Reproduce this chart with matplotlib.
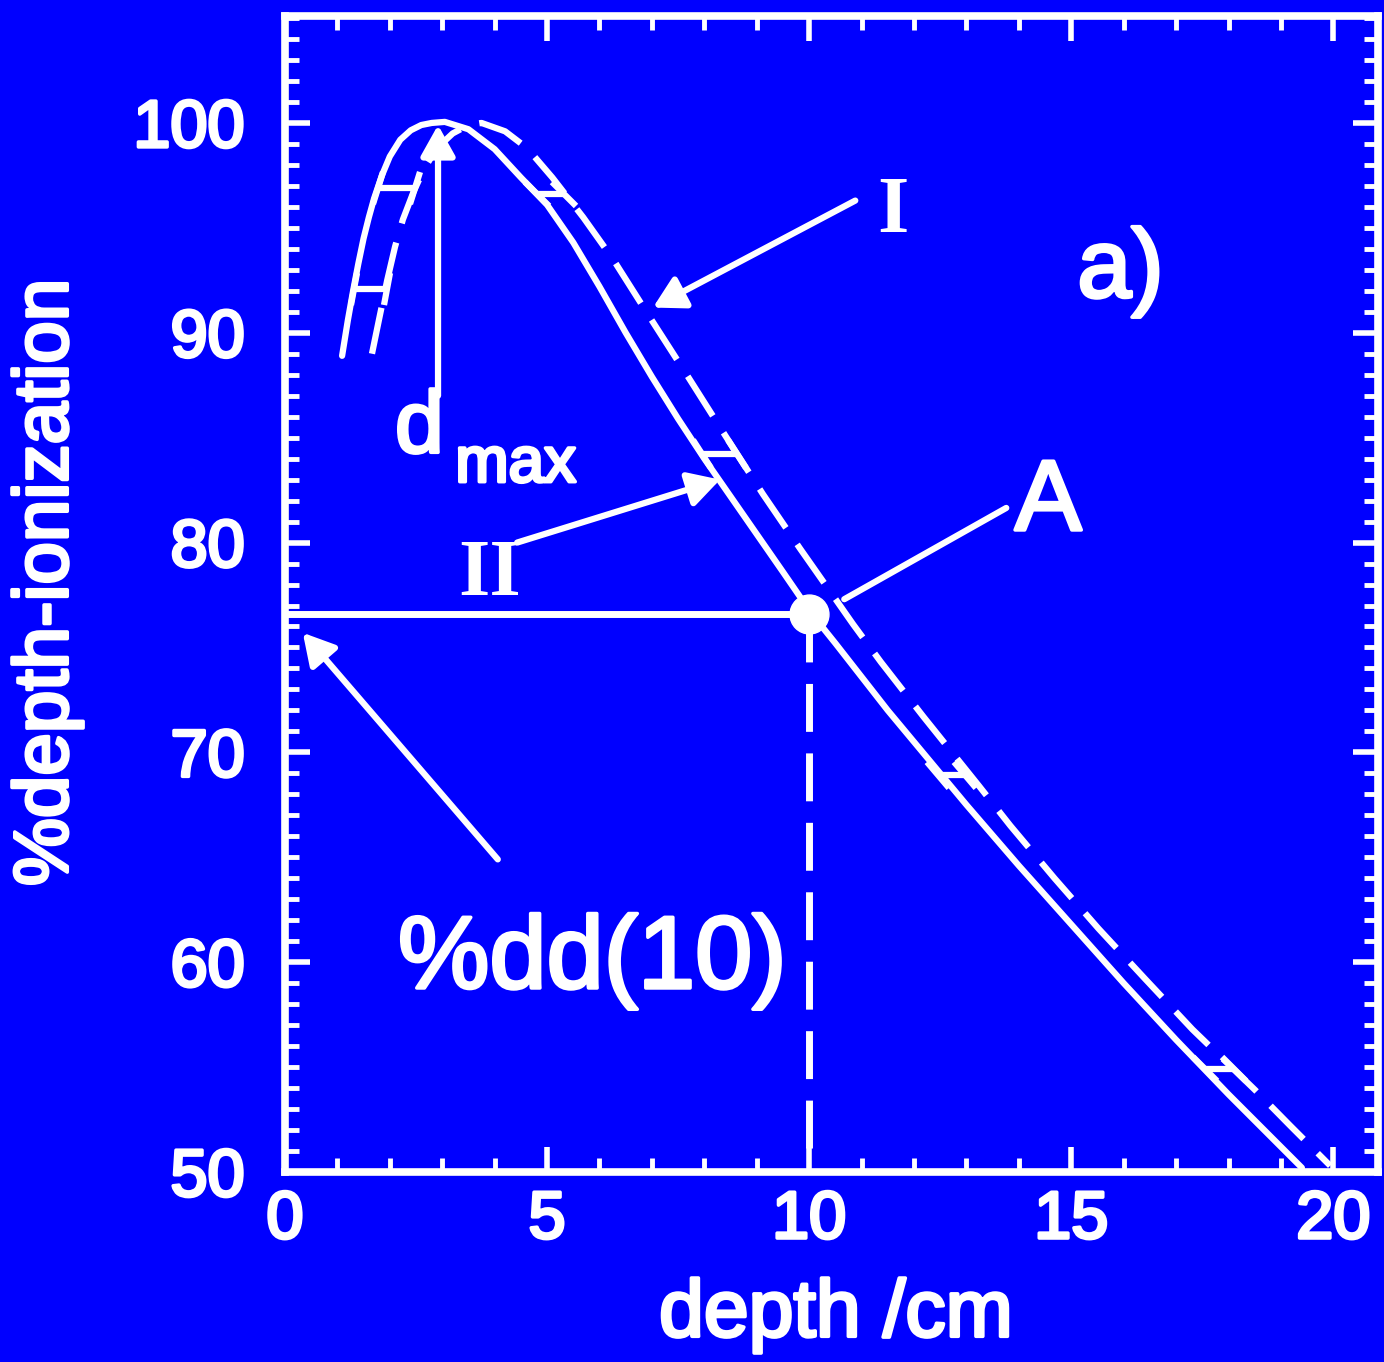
import numpy as np
import matplotlib
matplotlib.use("Agg")
import matplotlib.pyplot as plt
from matplotlib import patheffects as pe
from matplotlib.markers import MarkerStyle
from matplotlib.ticker import MultipleLocator
from matplotlib.transforms import Affine2D

# Curve II (solid line): %depth-ionization against depth /cm
depth_ii = [1.09, 1.2, 1.3, 1.4, 1.5, 1.6, 1.7, 1.85, 2.0, 2.2, 2.4, 2.6, 2.8, 3.05, 3.5, 4.0,
            4.5, 5.0, 5.5, 6.0, 6.5, 7.0, 7.5, 8.0, 8.5, 9.0, 9.5, 10.05, 10.5, 11.0, 11.5,
            12.0, 12.5, 13.0, 14.0, 15.0, 16.0, 17.0, 18.0, 19.0, 19.4]
pct_ii = [88.9, 90.6, 92.0, 93.3, 94.5, 95.5, 96.4, 97.5, 98.4, 99.2, 99.65, 99.9, 100.0, 100.05,
          99.7, 98.75, 97.4, 96.1, 94.3, 92.2, 90.0, 87.9, 85.9, 84.0, 82.2, 80.4, 78.6, 76.6,
          75.2, 73.6, 72.0, 70.5, 69.0, 67.5, 64.6, 61.8, 59.0, 56.3, 53.7, 51.2, 50.2]

# Curve I (dashed line)
depth_i = [1.66, 1.8, 1.95, 2.1, 2.25, 2.45, 2.65, 2.9, 3.2, 3.5, 3.75, 4.2, 4.62, 5.1, 5.69,
           6.26, 6.97, 7.69, 8.40, 9.12, 9.83, 10.42, 10.84, 11.37, 12.18, 13.24, 13.84, 14.68,
           15.52, 16.41, 17.31, 18.51, 19.18, 19.94]
pct_i = [89.0, 90.7, 92.5, 94.1, 95.4, 96.7, 97.8, 98.8, 99.5, 99.9, 100.0, 99.6, 98.8, 97.4,
         95.5, 93.5, 90.7, 87.9, 85.1, 82.3, 79.7, 77.6, 76.1, 74.3, 71.7, 68.4, 66.5, 64.0,
         61.6, 59.2, 56.8, 53.9, 52.2, 50.3]

# error bars sitting on curve II and reaching over to curve I
bar_depth = [1.31, 1.77, 4.80, 7.95, 12.45, 17.55]
bar_pct = [92.1, 96.9, 96.6, 84.2, 68.9, 54.9]
bar_width = [0.63, 0.71, 0.53, 0.68, 0.52, 0.56]

# point A = %dd(10), and depth of maximum
a_depth, a_pct = 10.0, 76.6
dmax_depth = 2.92

x_ticks = [0, 5, 10, 15, 20]
y_ticks = [50, 60, 70, 80, 90, 100]

BLUE = "#0000ff"
W = "white"
plt.rcParams["font.family"] = ["Liberation Sans", "DejaVu Sans"]
thick = [pe.withStroke(linewidth=2.5, foreground=W)]

fig = plt.figure(figsize=(13.84, 13.62), dpi=100, facecolor=BLUE)
ax = fig.add_axes([0.2059, 0.1395, 0.7897, 0.8488], facecolor=BLUE)
ax.set_xlim(0, 20.85)
ax.set_ylim(50, 105.1)

# curves
ax.plot(depth_ii, pct_ii, color=W, lw=4.5, solid_joinstyle="round", solid_capstyle="round")
ax.plot(depth_i, pct_i, color=W, lw=4.5, dashes=(7.5, 3.2))

# %dd(10) construction
ax.plot([0, a_depth], [a_pct, a_pct], color=W, lw=5)
ax.plot([a_depth, a_depth], [a_pct, 50], color=W, lw=5, dashes=(6.9, 3.1))
ax.plot(a_depth, a_pct, "o", color=W, ms=28)


def tangent_angle(xs, ys, x0):
    # direction of the curve on screen, for the error bar caps
    i = int(np.clip(np.searchsorted(xs, x0), 1, len(xs) - 1))
    p0, p1 = ax.transData.transform([(xs[i - 1], ys[i - 1]), (xs[i], ys[i])])
    return np.degrees(np.arctan2(p1[1] - p0[1], p1[0] - p0[0]))


ax.hlines(bar_pct, bar_depth, np.add(bar_depth, bar_width), color=W, lw=4.5)
for x, y, w in zip(bar_depth, bar_pct, bar_width):
    cap = MarkerStyle("_", transform=Affine2D().rotate_deg(tangent_angle(depth_ii, pct_ii, x)))
    ax.plot([x, x + w], [y, y], ls="none", marker=cap, ms=24, mew=4.5, color=W)

# arrows
head = dict(arrowstyle="-|>,head_length=0.75,head_width=0.42", color=W, lw=4.5,
            mutation_scale=25, shrinkA=0, shrinkB=0)
ax.annotate("", xy=(7.02, 91.2), xytext=(10.88, 96.3), arrowprops=head)
ax.annotate("", xy=(8.30, 83.0), xytext=(4.43, 80.0), arrowprops=head)
ax.annotate("", xy=(0.34, 75.7), xytext=(4.06, 64.9), arrowprops=head)
ax.annotate("", xy=(dmax_depth, 99.9), xytext=(dmax_depth, 87.0), arrowprops=head)
ax.annotate("", xy=(10.67, 77.3), xytext=(13.76, 81.65),
            arrowprops=dict(arrowstyle="-", color=W, lw=4.5, shrinkA=0, shrinkB=0))

# labels inside the plot
serif = ["Liberation Serif", "DejaVu Serif"]
ax.text(11.6, 94.8, "I", family=serif, weight="bold", fontsize=58, color=W,
        ha="center", va="baseline")
ax.text(3.91, 77.5, "II", family=serif, weight="bold", fontsize=58, color=W,
        ha="center", va="baseline")
ax.text(14.56, 80.6, "A", fontsize=72, color=W, ha="center", va="baseline", path_effects=thick)
ax.text(15.94, 91.7, "a)", fontsize=70, color=W, ha="center", va="baseline", path_effects=thick)
ax.text(5.86, 58.77, "%dd(10)", fontsize=74, color=W, ha="center", va="baseline",
        path_effects=thick)
ax.text(2.1, 84.3, "d", fontsize=63, color=W, ha="left", va="baseline", path_effects=thick)
ax.text(3.25, 82.9, "max", fontsize=46, color=W, ha="left", va="baseline", path_effects=thick)

# axes styling
ax.set_xticks(x_ticks)
ax.set_yticks(y_ticks)
ax.xaxis.set_minor_locator(MultipleLocator(1))
ax.yaxis.set_minor_locator(MultipleLocator(1))
ax.tick_params(which="both", direction="in", top=True, right=True, colors=W)
ax.tick_params(which="major", length=18, width=4)
ax.tick_params(which="minor", length=10, width=3.5)
ax.tick_params(axis="x", labelsize=48, pad=13)
ax.tick_params(axis="y", labelsize=48, pad=29)
for lbl in ax.get_xticklabels() + ax.get_yticklabels():
    lbl.set_path_effects(thick)
for sp in ax.spines.values():
    sp.set_color(W)
    sp.set_linewidth(5.5)

ax.set_xlabel("depth /cm", fontsize=58, color=W, path_effects=thick)
ax.set_ylabel("%depth-ionization", fontsize=55, color=W, path_effects=thick)
ax.xaxis.label.set_va("center")
ax.yaxis.label.set_va("center")
ax.xaxis.set_label_coords(0.504, -0.124)
ax.yaxis.set_label_coords(-0.217, 0.51)

fig.savefig("out.png", dpi=100, facecolor=BLUE)
